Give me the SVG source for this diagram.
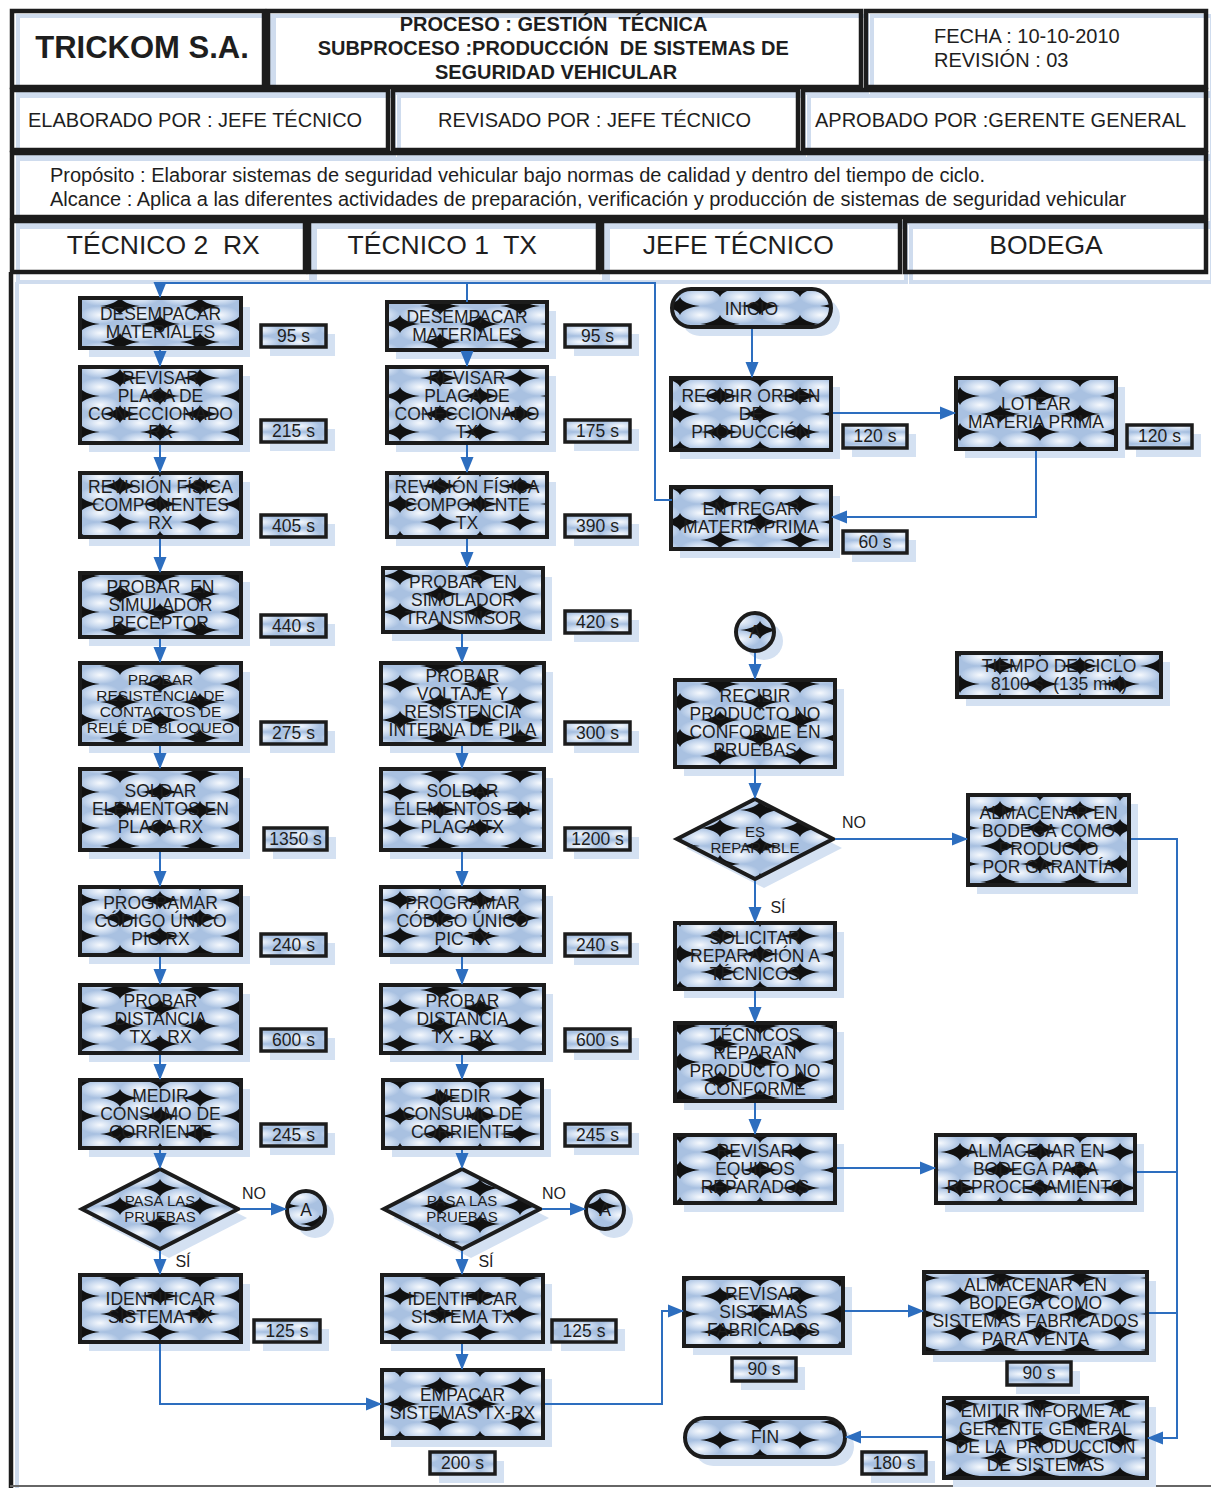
<svg xmlns="http://www.w3.org/2000/svg" width="1211" height="1488" viewBox="0 0 1211 1488">
<defs>
<style>
.sh{fill:#d4e1f2}
.nd{fill:url(#bub);stroke:#1c1c1c;stroke-width:4}
.tm{fill:url(#bubp);stroke:#1c1c1c;stroke-width:3.5}
.tx{font-family:"Liberation Sans",Arial,sans-serif;font-size:17.5px;fill:#1e1e1e;text-anchor:middle}
.sm{font-size:15.5px}
.dl{font-size:15px}
.lb{font-family:"Liberation Sans",Arial,sans-serif;font-size:16px;fill:#1e1e1e;text-anchor:middle}
.cn{fill:none;stroke:#2d6ebf;stroke-width:2}
.ar{marker-end:url(#ah)}
.hd{fill:none;stroke:#1c1c1c;stroke-width:4.5}
.hs{fill:none;stroke:#cfdcee;stroke-width:4}
.ht{font-family:"Liberation Sans",Arial,sans-serif;fill:#1e1e1e}
</style>
<radialGradient id="hl" cx="50%" cy="50%" r="50%">
<stop offset="0" stop-color="#f6f9fd"/>
<stop offset="0.55" stop-color="#cddcf0"/>
<stop offset="1" stop-color="#a9c1e1"/>
</radialGradient>
<path id="star" d="M-20,0 Q-3,-2 0,-9 Q3,-2 20,0 Q3,2 0,9 Q-3,2 -20,0Z"/>
<pattern id="bub" patternUnits="userSpaceOnUse" width="80" height="36">
<rect width="80" height="36" fill="#a9c1e1"/>
<ellipse cx="20" cy="9" rx="20" ry="9" fill="url(#hl)"/>
<ellipse cx="60" cy="9" rx="20" ry="9" fill="url(#hl)"/>
<ellipse cx="20" cy="27" rx="20" ry="9" fill="url(#hl)"/>
<ellipse cx="60" cy="27" rx="20" ry="9" fill="url(#hl)"/>
<use href="#star" x="40" y="18" fill="#111"/>
<use href="#star" x="0" y="0" fill="#111"/>
<use href="#star" x="80" y="0" fill="#111"/>
<use href="#star" x="0" y="36" fill="#111"/>
<use href="#star" x="80" y="36" fill="#111"/>
</pattern>
<pattern id="bubp" patternUnits="userSpaceOnUse" width="40" height="12">
<rect width="40" height="12" fill="#a9c1e1"/>
<ellipse cx="20" cy="6" rx="20" ry="6" fill="url(#hl)"/>
</pattern>
<marker id="ah" markerUnits="userSpaceOnUse" markerWidth="16" markerHeight="16" viewBox="0 0 16 16" refX="15" refY="8" orient="auto">
<path d="M0,1.5 L16,8 L0,14.5 Z" fill="#2d6ebf"/>
</marker>
</defs>

<rect width="1211" height="1488" fill="#ffffff"/>

<!-- header form: light shadow outlines first, black cell frames on top -->
<g id="header">
<g>
<rect class="hs" x="18" y="16" width="252" height="77"/>
<rect class="hs" x="274" y="16" width="593" height="77"/>
<rect class="hs" x="872" y="16" width="340" height="77"/>
<rect class="hs" x="18" y="96" width="376" height="60"/>
<rect class="hs" x="399" y="96" width="405" height="60"/>
<rect class="hs" x="809" y="96" width="403" height="60"/>
<rect class="hs" x="18" y="159" width="1194" height="64"/>
<rect class="hs" x="18" y="227" width="293" height="55"/>
<rect class="hs" x="315" y="227" width="289" height="55"/>
<rect class="hs" x="608" y="227" width="298" height="55"/>
<rect class="hs" x="911" y="227" width="301" height="55"/>
<line x1="17" y1="282" x2="17" y2="1488" stroke="#cfdcee" stroke-width="4"/>
</g>
<g>
<rect class="hd" x="12" y="11" width="252" height="76"/>
<rect class="hd" x="268" y="11" width="593" height="76"/>
<rect class="hd" x="866" y="11" width="340" height="76"/>
<rect class="hd" x="12" y="90" width="376" height="60"/>
<rect class="hd" x="393" y="90" width="405" height="60"/>
<rect class="hd" x="803" y="90" width="403" height="60"/>
<rect class="hd" x="12" y="153" width="1194" height="64"/>
<rect class="hd" x="12" y="221" width="293" height="51"/>
<rect class="hd" x="309" y="221" width="289" height="51"/>
<rect class="hd" x="602" y="221" width="298" height="51"/>
<rect class="hd" x="905" y="221" width="301" height="51"/>
<line x1="11" y1="272" x2="11" y2="1488" stroke="#1c1c1c" stroke-width="4.5"/>
<line x1="10" y1="1486" x2="1211" y2="1486" stroke="#666" stroke-width="2"/>
</g>
<text class="ht" x="142" y="58" font-size="31" font-weight="bold" text-anchor="middle">TRICKOM S.A.</text>
<text class="ht" font-size="20" font-weight="bold" text-anchor="middle">
<tspan x="556" y="31">PROCESO : GESTIÓN&#160; TÉCNICA</tspan>
<tspan x="556" y="55">SUBPROCESO :PRODUCCIÓN&#160; DE SISTEMAS DE</tspan>
<tspan x="556" y="79">SEGURIDAD VEHICULAR</tspan>
</text>
<text class="ht" font-size="20">
<tspan x="934" y="43">FECHA : 10-10-2010</tspan>
<tspan x="934" y="67">REVISIÓN : 03</tspan>
</text>
<text class="ht" x="28" y="127" font-size="20">ELABORADO POR : JEFE TÉCNICO</text>
<text class="ht" x="438" y="127" font-size="20">REVISADO POR : JEFE TÉCNICO</text>
<text class="ht" x="815" y="127" font-size="20">APROBADO POR :GERENTE GENERAL</text>
<text class="ht" font-size="20">
<tspan x="50" y="182">Propósito : Elaborar sistemas de seguridad vehicular bajo normas de calidad y dentro del tiempo de ciclo.</tspan>
<tspan x="50" y="206">Alcance : Aplica a las diferentes actividades de preparación, verificación y producción de sistemas de seguridad vehicular</tspan>
</text>
<text class="ht" font-size="26.5" text-anchor="middle">
<tspan x="167" y="254">TÉCNICO 2&#160; RX</tspan>
<tspan x="446" y="254">TÉCNICO 1&#160; TX</tspan>
<tspan x="742" y="254">JEFE TÉCNICO</tspan>
<tspan x="1046" y="254">BODEGA</tspan>
</text>
</g>

<!-- TÉCNICO 2 RX lane -->
<g id="rx-desempacar"><rect class="sh" x="89" y="307" width="161" height="50"/><rect class="nd" x="80" y="298" width="161" height="50"/><text class="tx"><tspan x="160.5" y="320">DESEMPACAR</tspan><tspan x="160.5" y="338">MATERIALES</tspan></text></g>
<g id="rx-desempacar-t"><rect class="sh" x="270" y="334" width="65" height="22"/><rect class="tm" x="261" y="325" width="65" height="22"/><text class="tx" x="293.5" y="342">95 s</text></g>

<g id="rx-revisar-placa"><rect class="sh" x="89" y="376" width="161" height="76"/><rect class="nd" x="80" y="367" width="161" height="76"/><text class="tx"><tspan x="160.5" y="384">REVISAR</tspan><tspan x="160.5" y="402">PLACA DE</tspan><tspan x="160.5" y="420">CONECCIONADO</tspan><tspan x="160.5" y="438">RX</tspan></text></g>
<g id="rx-revisar-placa-t"><rect class="sh" x="270" y="429" width="65" height="22"/><rect class="tm" x="261" y="420" width="65" height="22"/><text class="tx" x="293.5" y="437">215 s</text></g>

<g id="rx-revision-fisica"><rect class="sh" x="89" y="482" width="161" height="64"/><rect class="nd" x="80" y="473" width="161" height="64"/><text class="tx"><tspan x="160.5" y="493">REVISIÓN FÍSICA</tspan><tspan x="160.5" y="511">COMPONENTES</tspan><tspan x="160.5" y="529">RX</tspan></text></g>
<g id="rx-revision-fisica-t"><rect class="sh" x="270" y="524" width="65" height="22"/><rect class="tm" x="261" y="515" width="65" height="22"/><text class="tx" x="293.5" y="532">405 s</text></g>

<g id="rx-simulador"><rect class="sh" x="89" y="582" width="161" height="64"/><rect class="nd" x="80" y="573" width="161" height="64"/><text class="tx"><tspan x="160.5" y="593">PROBAR&#160; EN</tspan><tspan x="160.5" y="611">SIMULADOR</tspan><tspan x="160.5" y="629">RECEPTOR</tspan></text></g>
<g id="rx-simulador-t"><rect class="sh" x="270" y="624" width="65" height="22"/><rect class="tm" x="261" y="615" width="65" height="22"/><text class="tx" x="293.5" y="632">440 s</text></g>

<g id="rx-rele"><rect class="sh" x="89" y="672" width="161" height="81"/><rect class="nd" x="80" y="663" width="161" height="81"/><text class="tx sm"><tspan x="160.5" y="685">PROBAR</tspan><tspan x="160.5" y="701">RESISTENCIA DE</tspan><tspan x="160.5" y="717">CONTACTOS DE</tspan><tspan x="160.5" y="733">RELÉ DE BLOQUEO</tspan></text></g>
<g id="rx-rele-t"><rect class="sh" x="270" y="731" width="65" height="22"/><rect class="tm" x="261" y="722" width="65" height="22"/><text class="tx" x="293.5" y="739">275 s</text></g>

<g id="rx-soldar"><rect class="sh" x="89" y="778" width="161" height="81"/><rect class="nd" x="80" y="769" width="161" height="81"/><text class="tx"><tspan x="160.5" y="797">SOLDAR</tspan><tspan x="160.5" y="815">ELEMENTOS EN</tspan><tspan x="160.5" y="833">PLACA RX</tspan></text></g>
<g id="rx-soldar-t"><rect class="sh" x="273" y="837" width="63" height="22"/><rect class="tm" x="264" y="828" width="63" height="22"/><text class="tx" x="295.5" y="845">1350 s</text></g>

<g id="rx-programar"><rect class="sh" x="89" y="896" width="161" height="68"/><rect class="nd" x="80" y="887" width="161" height="68"/><text class="tx"><tspan x="160.5" y="909">PROGRAMAR</tspan><tspan x="160.5" y="927">CÓDIGO ÚNICO</tspan><tspan x="160.5" y="945">PIC RX</tspan></text></g>
<g id="rx-programar-t"><rect class="sh" x="270" y="943" width="65" height="22"/><rect class="tm" x="261" y="934" width="65" height="22"/><text class="tx" x="293.5" y="951">240 s</text></g>

<g id="rx-distancia"><rect class="sh" x="89" y="994" width="161" height="68"/><rect class="nd" x="80" y="985" width="161" height="68"/><text class="tx"><tspan x="160.5" y="1007">PROBAR</tspan><tspan x="160.5" y="1025">DISTANCIA</tspan><tspan x="160.5" y="1043">TX - RX</tspan></text></g>
<g id="rx-distancia-t"><rect class="sh" x="270" y="1038" width="65" height="22"/><rect class="tm" x="261" y="1029" width="65" height="22"/><text class="tx" x="293.5" y="1046">600 s</text></g>

<g id="rx-consumo"><rect class="sh" x="89" y="1089" width="161" height="68"/><rect class="nd" x="80" y="1080" width="161" height="68"/><text class="tx"><tspan x="160.5" y="1102">MEDIR</tspan><tspan x="160.5" y="1120">CONSUMO DE</tspan><tspan x="160.5" y="1138">CORRIENTE</tspan></text></g>
<g id="rx-consumo-t"><rect class="sh" x="270" y="1133" width="65" height="22"/><rect class="tm" x="261" y="1124" width="65" height="22"/><text class="tx" x="293.5" y="1141">245 s</text></g>

<g id="rx-pasa"><polygon class="sh" points="169,1178 247,1218 169,1258 91,1218"/><polygon class="nd" points="160,1169 238,1209 160,1249 82,1209"/><text class="tx dl"><tspan x="160" y="1206">PASA LAS</tspan><tspan x="160" y="1222">PRUEBAS</tspan></text></g>
<g id="rx-conector-a"><circle class="sh" cx="315" cy="1219" r="19"/><circle class="nd" cx="306" cy="1210" r="19"/><text class="tx" x="306" y="1216">A</text></g>

<g id="rx-identificar"><rect class="sh" x="89" y="1284" width="161" height="67"/><rect class="nd" x="80" y="1275" width="161" height="67"/><text class="tx"><tspan x="160.5" y="1305">IDENTIFICAR</tspan><tspan x="160.5" y="1323">SISTEMA RX</tspan></text></g>
<g id="rx-identificar-t"><rect class="sh" x="263" y="1329" width="66" height="22"/><rect class="tm" x="254" y="1320" width="66" height="22"/><text class="tx" x="287" y="1337">125 s</text></g>

<!-- TÉCNICO 1 TX lane -->
<g id="tx-desempacar"><rect class="sh" x="396" y="311" width="160" height="48"/><rect class="nd" x="387" y="302" width="160" height="48"/><text class="tx"><tspan x="467" y="323">DESEMPACAR</tspan><tspan x="467" y="341">MATERIALES</tspan></text></g>
<g id="tx-desempacar-t"><rect class="sh" x="574" y="334" width="65" height="22"/><rect class="tm" x="565" y="325" width="65" height="22"/><text class="tx" x="597.5" y="342">95 s</text></g>

<g id="tx-revisar-placa"><rect class="sh" x="396" y="376" width="160" height="76"/><rect class="nd" x="387" y="367" width="160" height="76"/><text class="tx"><tspan x="467" y="384">REVISAR</tspan><tspan x="467" y="402">PLACA DE</tspan><tspan x="467" y="420">CONECCIONADO</tspan><tspan x="467" y="438">TX</tspan></text></g>
<g id="tx-revisar-placa-t"><rect class="sh" x="574" y="429" width="65" height="22"/><rect class="tm" x="565" y="420" width="65" height="22"/><text class="tx" x="597.5" y="437">175 s</text></g>

<g id="tx-revision-fisica"><rect class="sh" x="396" y="482" width="160" height="64"/><rect class="nd" x="387" y="473" width="160" height="64"/><text class="tx"><tspan x="467" y="493">REVISIÓN FÍSICA</tspan><tspan x="467" y="511">COMPONENTE</tspan><tspan x="467" y="529">TX</tspan></text></g>
<g id="tx-revision-fisica-t"><rect class="sh" x="574" y="524" width="65" height="22"/><rect class="tm" x="565" y="515" width="65" height="22"/><text class="tx" x="597.5" y="532">390 s</text></g>

<g id="tx-simulador"><rect class="sh" x="392" y="577" width="160" height="64"/><rect class="nd" x="383" y="568" width="160" height="64"/><text class="tx"><tspan x="463" y="588">PROBAR&#160; EN</tspan><tspan x="463" y="606">SIMULADOR</tspan><tspan x="463" y="624">TRANSMISOR</tspan></text></g>
<g id="tx-simulador-t"><rect class="sh" x="574" y="620" width="65" height="22"/><rect class="tm" x="565" y="611" width="65" height="22"/><text class="tx" x="597.5" y="628">420 s</text></g>

<g id="tx-pila"><rect class="sh" x="390" y="672" width="163" height="81"/><rect class="nd" x="381" y="663" width="163" height="81"/><text class="tx"><tspan x="462.5" y="682">PROBAR</tspan><tspan x="462.5" y="700">VOLTAJE Y</tspan><tspan x="462.5" y="718">RESISTENCIA</tspan><tspan x="462.5" y="736">INTERNA DE PILA</tspan></text></g>
<g id="tx-pila-t"><rect class="sh" x="574" y="731" width="65" height="22"/><rect class="tm" x="565" y="722" width="65" height="22"/><text class="tx" x="597.5" y="739">300 s</text></g>

<g id="tx-soldar"><rect class="sh" x="390" y="778" width="163" height="81"/><rect class="nd" x="381" y="769" width="163" height="81"/><text class="tx"><tspan x="462.5" y="797">SOLDAR</tspan><tspan x="462.5" y="815">ELEMENTOS EN</tspan><tspan x="462.5" y="833">PLACA TX</tspan></text></g>
<g id="tx-soldar-t"><rect class="sh" x="574" y="837" width="65" height="22"/><rect class="tm" x="565" y="828" width="65" height="22"/><text class="tx" x="597.5" y="845">1200 s</text></g>

<g id="tx-programar"><rect class="sh" x="390" y="896" width="163" height="68"/><rect class="nd" x="381" y="887" width="163" height="68"/><text class="tx"><tspan x="462.5" y="909">PROGRAMAR</tspan><tspan x="462.5" y="927">CÓDIGO ÚNICO</tspan><tspan x="462.5" y="945">PIC TX</tspan></text></g>
<g id="tx-programar-t"><rect class="sh" x="574" y="943" width="65" height="22"/><rect class="tm" x="565" y="934" width="65" height="22"/><text class="tx" x="597.5" y="951">240 s</text></g>

<g id="tx-distancia"><rect class="sh" x="390" y="994" width="163" height="68"/><rect class="nd" x="381" y="985" width="163" height="68"/><text class="tx"><tspan x="462.5" y="1007">PROBAR</tspan><tspan x="462.5" y="1025">DISTANCIA</tspan><tspan x="462.5" y="1043">TX - RX</tspan></text></g>
<g id="tx-distancia-t"><rect class="sh" x="574" y="1038" width="65" height="22"/><rect class="tm" x="565" y="1029" width="65" height="22"/><text class="tx" x="597.5" y="1046">600 s</text></g>

<g id="tx-consumo"><rect class="sh" x="392" y="1089" width="159" height="68"/><rect class="nd" x="383" y="1080" width="159" height="68"/><text class="tx"><tspan x="462.5" y="1102">MEDIR</tspan><tspan x="462.5" y="1120">CONSUMO DE</tspan><tspan x="462.5" y="1138">CORRIENTE</tspan></text></g>
<g id="tx-consumo-t"><rect class="sh" x="574" y="1133" width="65" height="22"/><rect class="tm" x="565" y="1124" width="65" height="22"/><text class="tx" x="597.5" y="1141">245 s</text></g>

<g id="tx-pasa"><polygon class="sh" points="471,1178 549,1218 471,1258 393,1218"/><polygon class="nd" points="462,1169 540,1209 462,1249 384,1209"/><text class="tx dl"><tspan x="462" y="1206">PASA LAS</tspan><tspan x="462" y="1222">PRUEBAS</tspan></text></g>
<g id="tx-conector-a"><circle class="sh" cx="614" cy="1219" r="19"/><circle class="nd" cx="605" cy="1210" r="19"/><text class="tx" x="605" y="1216">A</text></g>

<g id="tx-identificar"><rect class="sh" x="391" y="1284" width="161" height="67"/><rect class="nd" x="382" y="1275" width="161" height="67"/><text class="tx"><tspan x="462.5" y="1305">IDENTIFICAR</tspan><tspan x="462.5" y="1323">SISTEMA TX</tspan></text></g>
<g id="tx-identificar-t"><rect class="sh" x="561" y="1329" width="64" height="22"/><rect class="tm" x="552" y="1320" width="64" height="22"/><text class="tx" x="584" y="1337">125 s</text></g>

<g id="tx-empacar"><rect class="sh" x="391" y="1379" width="161" height="68"/><rect class="nd" x="382" y="1370" width="161" height="68"/><text class="tx"><tspan x="462.5" y="1401">EMPACAR</tspan><tspan x="462.5" y="1419">SISTEMAS TX-RX</tspan></text></g>
<g id="tx-empacar-t"><rect class="sh" x="439" y="1461" width="65" height="22"/><rect class="tm" x="430" y="1452" width="65" height="22"/><text class="tx" x="462.5" y="1469">200 s</text></g>

<!-- JEFE TÉCNICO lane -->
<g id="inicio"><rect class="sh" x="681" y="298" width="159" height="38" rx="19"/><rect class="nd" x="672" y="289" width="159" height="38" rx="19"/><text class="tx" x="751.5" y="315">INICIO</text></g>

<g id="recibir-orden"><rect class="sh" x="680" y="387" width="160" height="72"/><rect class="nd" x="671" y="378" width="160" height="72"/><text class="tx"><tspan x="751" y="402">RECIBIR ORDEN</tspan><tspan x="751" y="420">DE</tspan><tspan x="751" y="438">PRODUCCIÓN</tspan></text></g>
<g id="recibir-orden-t"><rect class="sh" x="852" y="434" width="64" height="23"/><rect class="tm" x="843" y="425" width="64" height="23"/><text class="tx" x="875" y="442">120 s</text></g>

<g id="entregar"><rect class="sh" x="680" y="496" width="160" height="62"/><rect class="nd" x="671" y="487" width="160" height="62"/><text class="tx"><tspan x="751" y="515">ENTREGAR</tspan><tspan x="751" y="533">MATERIA PRIMA</tspan></text></g>
<g id="entregar-t"><rect class="sh" x="852" y="540" width="64" height="22"/><rect class="tm" x="843" y="531" width="64" height="22"/><text class="tx" x="875" y="548">60 s</text></g>

<g id="conector-a"><circle class="sh" cx="764" cy="641" r="19"/><circle class="nd" cx="755" cy="632" r="19"/><text class="tx" x="755" y="638">A</text></g>

<g id="recibir-producto"><rect class="sh" x="684" y="689" width="160" height="87"/><rect class="nd" x="675" y="680" width="160" height="87"/><text class="tx"><tspan x="755" y="702">RECIBIR</tspan><tspan x="755" y="720">PRODUCTO NO</tspan><tspan x="755" y="738">CONFORME EN</tspan><tspan x="755" y="756">PRUEBAS</tspan></text></g>

<g id="es-reparable"><polygon class="sh" points="764,808 842,848 764,888 686,848"/><polygon class="nd" points="755,799 833,839 755,879 677,839"/><text class="tx dl"><tspan x="755" y="837">ES</tspan><tspan x="755" y="853">REPARABLE</tspan></text></g>

<g id="solicitar"><rect class="sh" x="684" y="932" width="160" height="66"/><rect class="nd" x="675" y="923" width="160" height="66"/><text class="tx"><tspan x="755" y="944">SOLICITAR</tspan><tspan x="755" y="962">REPARACIÓN A</tspan><tspan x="755" y="980">TÉCNICOS</tspan></text></g>

<g id="tecnicos-reparan"><rect class="sh" x="684" y="1032" width="160" height="78"/><rect class="nd" x="675" y="1023" width="160" height="78"/><text class="tx"><tspan x="755" y="1041">TÉCNICOS</tspan><tspan x="755" y="1059">REPARAN</tspan><tspan x="755" y="1077">PRODUCTO NO</tspan><tspan x="755" y="1095">CONFORME</tspan></text></g>

<g id="revisar-equipos"><rect class="sh" x="684" y="1144" width="160" height="68"/><rect class="nd" x="675" y="1135" width="160" height="68"/><text class="tx"><tspan x="755" y="1157">REVISAR</tspan><tspan x="755" y="1175">EQUIPOS</tspan><tspan x="755" y="1193">REPARADOS</tspan></text></g>

<g id="revisar-sistemas"><rect class="sh" x="693" y="1287" width="159" height="68"/><rect class="nd" x="684" y="1278" width="159" height="68"/><text class="tx"><tspan x="763.5" y="1300">REVISAR</tspan><tspan x="763.5" y="1318">SISTEMAS</tspan><tspan x="763.5" y="1336">FABRICADOS</tspan></text></g>
<g id="revisar-sistemas-t"><rect class="sh" x="741" y="1367" width="64" height="23"/><rect class="tm" x="732" y="1358" width="64" height="23"/><text class="tx" x="764" y="1375">90 s</text></g>

<g id="fin"><rect class="sh" x="694" y="1427" width="160" height="39" rx="19.5"/><rect class="nd" x="685" y="1418" width="160" height="39" rx="19.5"/><text class="tx" x="765" y="1443">FIN</text></g>
<g id="fin-t"><rect class="sh" x="871" y="1461" width="64" height="22"/><rect class="tm" x="862" y="1452" width="64" height="22"/><text class="tx" x="894" y="1469">180 s</text></g>

<!-- BODEGA lane -->
<g id="lotear"><rect class="sh" x="965" y="387" width="160" height="71"/><rect class="nd" x="956" y="378" width="160" height="71"/><text class="tx"><tspan x="1036" y="410">LOTEAR</tspan><tspan x="1036" y="428">MATERIA PRIMA</tspan></text></g>
<g id="lotear-t"><rect class="sh" x="1136" y="434" width="65" height="23"/><rect class="tm" x="1127" y="425" width="65" height="23"/><text class="tx" x="1159.5" y="442">120 s</text></g>

<g id="tiempo-ciclo"><rect class="sh" x="966" y="662" width="204" height="44"/><rect class="nd" x="957" y="653" width="204" height="44"/><text class="tx"><tspan x="1059" y="672">TIEMPO DE CICLO</tspan><tspan x="1059" y="690">8100 s&#160; (135 min)</tspan></text></g>

<g id="almacenar-garantia"><rect class="sh" x="977" y="804" width="161" height="90"/><rect class="nd" x="968" y="795" width="161" height="90"/><text class="tx"><tspan x="1048.5" y="819">ALMACENAR EN</tspan><tspan x="1048.5" y="837">BODEGA COMO</tspan><tspan x="1048.5" y="855">PRODUCTO</tspan><tspan x="1048.5" y="873">POR GARANTÍA</tspan></text></g>

<g id="almacenar-reproceso"><rect class="sh" x="945" y="1144" width="199" height="68"/><rect class="nd" x="936" y="1135" width="199" height="68"/><text class="tx"><tspan x="1035.5" y="1157">ALMACENAR EN</tspan><tspan x="1035.5" y="1175">BODEGA PARA</tspan><tspan x="1035.5" y="1193">REPROCESAMIENTO</tspan></text></g>

<g id="almacenar-venta"><rect class="sh" x="933" y="1281" width="223" height="81"/><rect class="nd" x="924" y="1272" width="223" height="81"/><text class="tx"><tspan x="1035.5" y="1291">ALMACENAR&#160; EN</tspan><tspan x="1035.5" y="1309">BODEGA COMO</tspan><tspan x="1035.5" y="1327">SISTEMAS FABRICADOS</tspan><tspan x="1035.5" y="1345">PARA VENTA</tspan></text></g>
<g id="almacenar-venta-t"><rect class="sh" x="1016" y="1371" width="64" height="23"/><rect class="tm" x="1007" y="1362" width="64" height="23"/><text class="tx" x="1039" y="1379">90 s</text></g>

<g id="emitir-informe"><rect class="sh" x="953" y="1407" width="203" height="80"/><rect class="nd" x="944" y="1398" width="203" height="80"/><text class="tx"><tspan x="1045.5" y="1417">EMITIR INFORME AL</tspan><tspan x="1045.5" y="1435">GERENTE GENERAL</tspan><tspan x="1045.5" y="1453">DE LA&#160; PRODUCCIÓN</tspan><tspan x="1045.5" y="1471">DE SISTEMAS</tspan></text></g>

<!-- connectors, drawn over the node shadows -->
<g id="connectors">
<path class="cn ar" d="M672,500 H655 V283 H160 V297"/>
<path class="cn" d="M467,283 V302"/>
<path class="cn ar" d="M160,350 V366"/>
<path class="cn ar" d="M160,445 V472"/>
<path class="cn ar" d="M160,539 V572"/>
<path class="cn ar" d="M160,639 V662"/>
<path class="cn ar" d="M160,746 V768"/>
<path class="cn ar" d="M160,852 V886"/>
<path class="cn ar" d="M160,957 V984"/>
<path class="cn ar" d="M160,1055 V1079"/>
<path class="cn ar" d="M160,1150 V1168"/>
<path class="cn ar" d="M160,1251 V1274"/>
<path class="cn ar" d="M240,1209 H286"/>
<path class="cn ar" d="M160,1344 V1404 H381"/>
<path class="cn ar" d="M467,352 V366"/>
<path class="cn ar" d="M467,445 V472"/>
<path class="cn ar" d="M467,539 V567"/>
<path class="cn ar" d="M462,634 V662"/>
<path class="cn ar" d="M462,746 V768"/>
<path class="cn ar" d="M462,852 V886"/>
<path class="cn ar" d="M462,957 V984"/>
<path class="cn ar" d="M462,1055 V1079"/>
<path class="cn ar" d="M462,1150 V1168"/>
<path class="cn ar" d="M462,1251 V1274"/>
<path class="cn ar" d="M542,1209 H585"/>
<path class="cn ar" d="M462,1344 V1369"/>
<path class="cn ar" d="M545,1404 H662 V1311 H683"/>
<path class="cn ar" d="M752,329 V377"/>
<path class="cn ar" d="M833,413 H955"/>
<path class="cn ar" d="M1036,451 V517 H832"/>
<path class="cn ar" d="M755,653 V679"/>
<path class="cn ar" d="M755,769 V798"/>
<path class="cn ar" d="M835,839 H967"/>
<path class="cn ar" d="M755,881 V922"/>
<path class="cn ar" d="M755,991 V1022"/>
<path class="cn ar" d="M755,1103 V1134"/>
<path class="cn ar" d="M837,1168 H935"/>
<path class="cn ar" d="M845,1311 H923"/>
<path class="cn ar" d="M1131,839 H1177 V1438 H1148"/>
<path class="cn" d="M1137,1172 H1177"/>
<path class="cn" d="M1149,1313 H1177"/>
<path class="cn ar" d="M942,1437 H846"/>
<text class="lb" x="254" y="1199">NO</text>
<text class="lb" x="554" y="1199">NO</text>
<text class="lb" x="854" y="828">NO</text>
<text class="lb" x="183" y="1267">SÍ</text>
<text class="lb" x="486" y="1267">SÍ</text>
<text class="lb" x="778" y="913">SÍ</text>
</g>
</svg>
